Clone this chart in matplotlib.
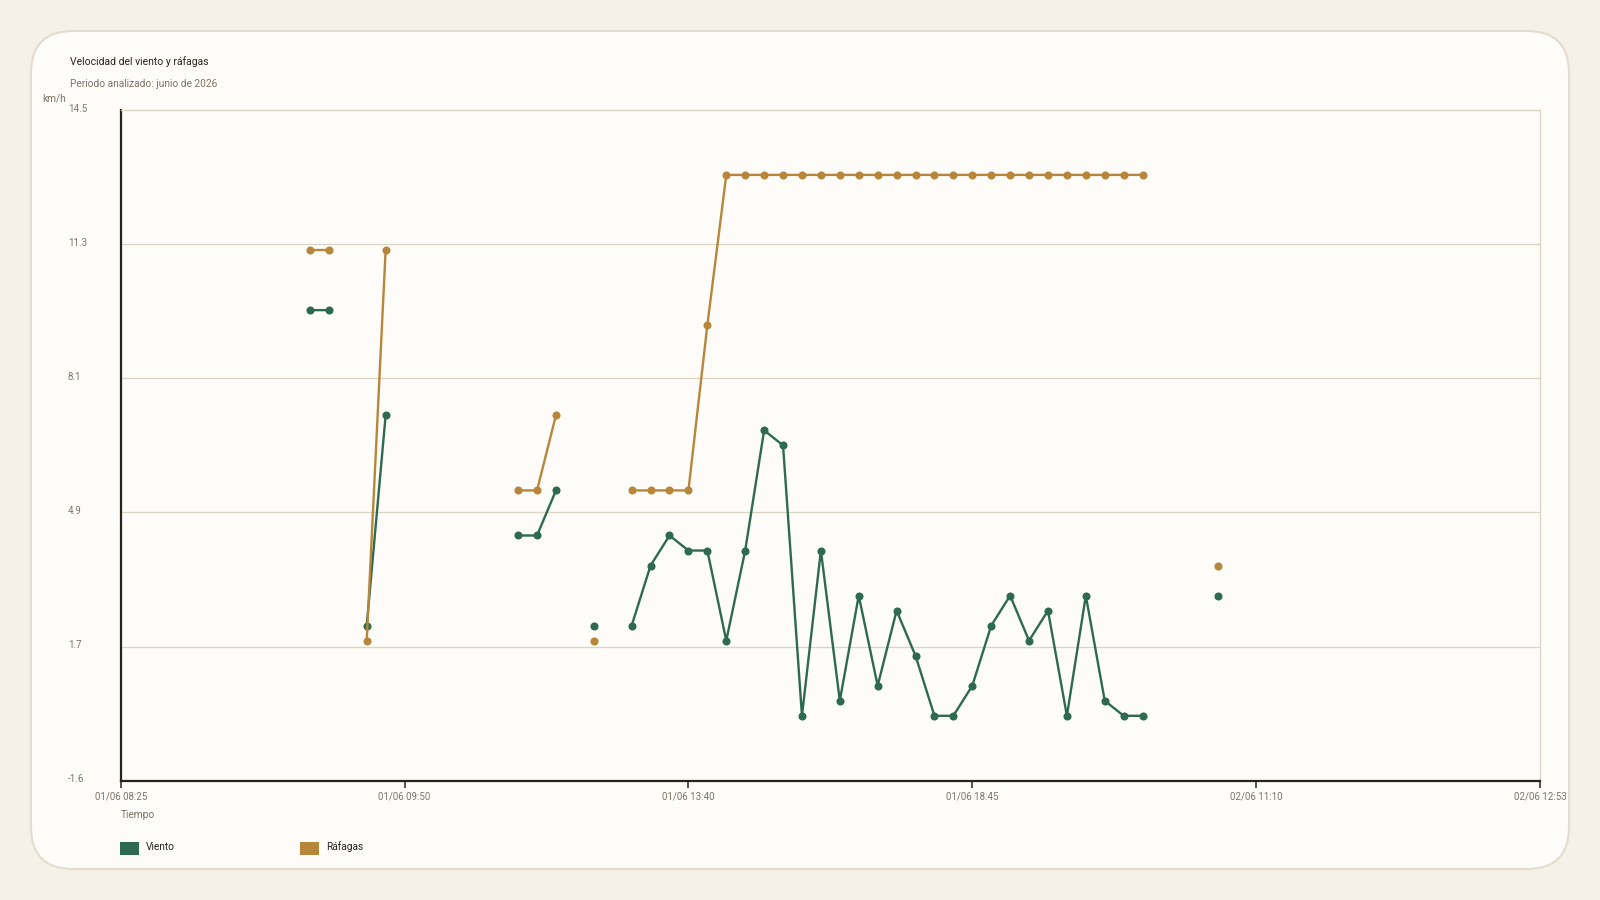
"""Velocidad del viento y ráfagas - line chart on a rounded card."""
import numpy as np
import matplotlib

matplotlib.use("Agg")
import matplotlib.pyplot as plt
from matplotlib.patches import FancyBboxPatch, Rectangle
from matplotlib.transforms import ScaledTranslation

plt.rcParams["font.family"] = ["Roboto", "DejaVu Sans"]

# ------------------------------------------------------------------ data
N_POINTS = 76  # evenly spaced time slots
tick_idx = [0, 15, 30, 45, 60, 75]
tick_labels = ["01/06 08:25", "01/06 09:50", "01/06 13:40",
               "01/06 18:45", "02/06 11:10", "02/06 12:53"]

viento_idx = [10, 11, 13, 14, 21, 22, 23, 25,
              27, 28, 29, 30, 31, 32, 33, 34, 35, 36, 37, 38, 39, 40,
              41, 42, 43, 44, 45, 46, 47, 48, 49, 50, 51, 52, 53, 54, 58]
viento = [9.72, 9.72, 2.16, 7.2, 4.32, 4.32, 5.4, 2.16,
          2.16, 3.6, 4.32, 3.96, 3.96, 1.8, 3.96, 6.84, 6.48, 0.0, 3.96, 0.36, 2.88, 0.72,
          2.52, 1.44, 0.0, 0.0, 0.72, 2.16, 2.88, 1.8, 2.52, 0.0, 2.88, 0.36, 0.0, 0.0, 2.88]

rafagas_idx = [10, 11, 13, 14, 21, 22, 23, 25,
               27, 28, 29, 30, 31, 32, 33, 34, 35, 36, 37, 38, 39, 40,
               41, 42, 43, 44, 45, 46, 47, 48, 49, 50, 51, 52, 53, 54, 58]
rafagas = [11.16, 11.16, 1.8, 11.16, 5.4, 5.4, 7.2, 1.8,
           5.4, 5.4, 5.4, 5.4, 9.36, 12.96, 12.96, 12.96, 12.96, 12.96, 12.96, 12.96, 12.96, 12.96,
           12.96, 12.96, 12.96, 12.96, 12.96, 12.96, 12.96, 12.96, 12.96, 12.96, 12.96, 12.96, 12.96, 12.96, 3.6]


def to_series(idx, vals):
    s = np.full(N_POINTS, np.nan)
    s[idx] = vals
    return s


GREEN = "#2d6a4f"
GOLD = "#b8863b"
DARK = "#2b211b"
MUTED = "#7f7367"
GRID = "#dbd3c5"
CARD = "#fdfcf8"
PAGE = "#f5f1e8"

# ------------------------------------------------------------------ figure
fig = plt.figure(figsize=(16, 9), dpi=100, facecolor=PAGE)
card = FancyBboxPatch((0.31, 0.31), 15.38, 8.38,
                      boxstyle="round,pad=0,rounding_size=0.42",
                      transform=fig.dpi_scale_trans, facecolor=CARD,
                      edgecolor="#e3dccf", linewidth=1.5, zorder=-5)
fig.patches.append(card)

ax = fig.add_axes([120.7 / 1600, 1 - 780.7 / 900, (1540 - 120.7) / 1600, (780.7 - 110) / 900])
ax.set_facecolor(CARD)

x = np.arange(N_POINTS)
ax.plot(x, to_series(viento_idx, viento), color=GREEN, lw=1.7, marker="o", ms=4.8,
        zorder=3)
ax.plot(x, to_series(rafagas_idx, rafagas), color=GOLD, lw=1.7, marker="o", ms=4.8,
        zorder=3)

# y scale: 12% padding around data range
lo, hi = 0.0, 12.96
pad = (hi - lo) * 0.12
ymin, ymax = lo - pad, hi + pad
ax.set_ylim(ymin, ymax)
yt = np.linspace(ymin, ymax, 6)
ax.set_yticks(yt)
ax.set_yticklabels([f"{v:.1f}" for v in yt])
ax.tick_params(axis="y", length=0, pad=38, labelsize=7, labelcolor=MUTED)
lift = ScaledTranslation(0, 2.5 / 100, fig.dpi_scale_trans)
for lab in ax.get_yticklabels():
    lab.set_horizontalalignment("left")
    lab.set_transform(lab.get_transform() + lift)
ax.grid(axis="y", color=GRID, lw=0.9)
ax.set_axisbelow(True)

ax.set_xlim(0, N_POINTS - 1)
ax.set_xticks(tick_idx)
ax.set_xticklabels(tick_labels)
ax.tick_params(axis="x", length=5, width=1.1, color=DARK, pad=3,
               labelsize=7, labelcolor=MUTED)

for side in ("left", "bottom"):
    ax.spines[side].set_color(DARK)
    ax.spines[side].set_linewidth(1.6)
for side in ("top", "right"):
    ax.spines[side].set_color(GRID)
    ax.spines[side].set_linewidth(0.9)

# ------------------------------------------------------------------ texts
fig.text(70 / 1600, 1 - 61.7 / 900, "Velocidad del viento y ráfagas",
         fontsize=7.5, color=DARK, va="center", ha="left")
fig.text(70 / 1600, 1 - 84 / 900, "Periodo analizado: junio de 2026",
         fontsize=7.3, color=MUTED, va="center", ha="left")
fig.text(42.5 / 1600, 1 - 99 / 900, "km/h", fontsize=7.3, color=MUTED,
         va="center", ha="left")
fig.text(120.7 / 1600, 1 - 815 / 900, "Tiempo", fontsize=7.3, color=MUTED,
         va="center", ha="left")

# legend drawn by hand
for x0, col, name in [(120, GREEN, "Viento"), (300, GOLD, "Ráfagas")]:
    fig.patches.append(Rectangle((x0 / 1600, 1 - 854.7 / 900), 19 / 1600, 12.7 / 900,
                                 transform=fig.transFigure, facecolor=col,
                                 edgecolor="none"))
    fig.text((x0 + 26) / 1600, 1 - 847 / 900, name, fontsize=7.3, color=DARK,
             va="center", ha="left")

fig.savefig("out.png", dpi=100, facecolor=PAGE)
